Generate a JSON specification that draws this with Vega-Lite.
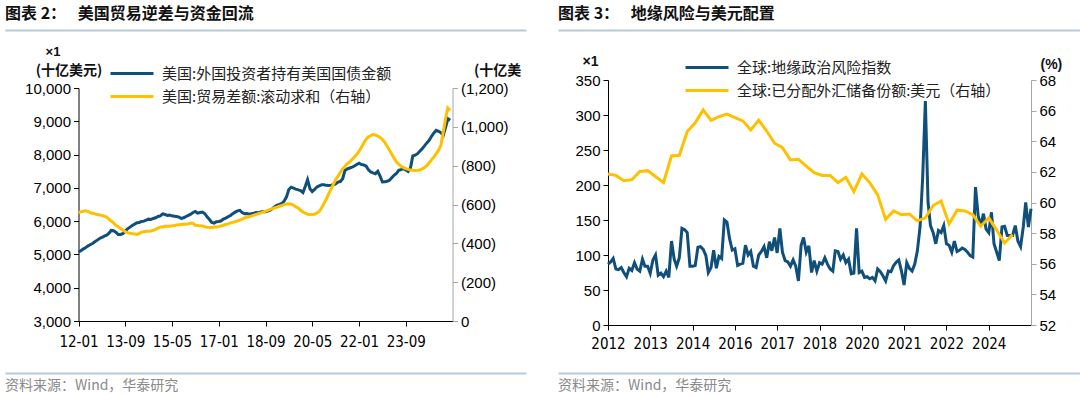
{
  "$schema": "https://vega.github.io/schema/vega-lite/v6.json",
  "background": "white",
  "padding": {"left": 5, "top": 5, "right": 0, "bottom": 0},
  "columns": 2,
  "spacing": {"row": 48, "column": 32},
  "align": "each",
  "bounds": "flush",
  "datasets": {
    "us": [
      {"d":"2012-01","h":5073,"t":-558},{"d":"2012-02","h":5110,"t":-562},{"d":"2012-03","h":5160,"t":-565},{"d":"2012-04","h":5200,"t":-568},{"d":"2012-05","h":5250,"t":-565},{"d":"2012-06","h":5290,"t":-558},{"d":"2012-07","h":5330,"t":-555},{"d":"2012-08","h":5380,"t":-552},{"d":"2012-09","h":5430,"t":-548},{"d":"2012-10","h":5480,"t":-546},{"d":"2012-11","h":5510,"t":-544},{"d":"2012-12","h":5550,"t":-540},
      {"d":"2013-01","h":5575,"t":-535},{"d":"2013-02","h":5640,"t":-525},{"d":"2013-03","h":5720,"t":-515},{"d":"2013-04","h":5710,"t":-505},{"d":"2013-05","h":5670,"t":-493},{"d":"2013-06","h":5600,"t":-485},{"d":"2013-07","h":5600,"t":-476},{"d":"2013-08","h":5625,"t":-468},{"d":"2013-09","h":5700,"t":-460},{"d":"2013-10","h":5770,"t":-455},{"d":"2013-11","h":5820,"t":-452},{"d":"2013-12","h":5870,"t":-450},
      {"d":"2014-01","h":5910,"t":-448},{"d":"2014-02","h":5950,"t":-446},{"d":"2014-03","h":5960,"t":-450},{"d":"2014-04","h":5990,"t":-458},{"d":"2014-05","h":6000,"t":-460},{"d":"2014-06","h":6030,"t":-462},{"d":"2014-07","h":6060,"t":-462},{"d":"2014-08","h":6050,"t":-464},{"d":"2014-09","h":6080,"t":-467},{"d":"2014-10","h":6100,"t":-472},{"d":"2014-11","h":6140,"t":-478},{"d":"2014-12","h":6160,"t":-484},
      {"d":"2015-01","h":6220,"t":-484},{"d":"2015-02","h":6200,"t":-488},{"d":"2015-03","h":6170,"t":-488},{"d":"2015-04","h":6180,"t":-488},{"d":"2015-05","h":6160,"t":-490},{"d":"2015-06","h":6150,"t":-492},{"d":"2015-07","h":6140,"t":-494},{"d":"2015-08","h":6120,"t":-496},{"d":"2015-09","h":6080,"t":-497},{"d":"2015-10","h":6100,"t":-498},{"d":"2015-11","h":6140,"t":-498},{"d":"2015-12","h":6175,"t":-500},
      {"d":"2016-01","h":6210,"t":-505},{"d":"2016-02","h":6260,"t":-503},{"d":"2016-03","h":6290,"t":-493},{"d":"2016-04","h":6240,"t":-492},{"d":"2016-05","h":6260,"t":-490},{"d":"2016-06","h":6275,"t":-489},{"d":"2016-07","h":6230,"t":-486},{"d":"2016-08","h":6130,"t":-483},{"d":"2016-09","h":6050,"t":-481},{"d":"2016-10","h":5960,"t":-482},{"d":"2016-11","h":5940,"t":-484},{"d":"2016-12","h":5980,"t":-484},
      {"d":"2017-01","h":5990,"t":-486},{"d":"2017-02","h":6010,"t":-490},{"d":"2017-03","h":6060,"t":-493},{"d":"2017-04","h":6090,"t":-497},{"d":"2017-05","h":6130,"t":-500},{"d":"2017-06","h":6170,"t":-505},{"d":"2017-07","h":6225,"t":-508},{"d":"2017-08","h":6270,"t":-512},{"d":"2017-09","h":6310,"t":-515},{"d":"2017-10","h":6325,"t":-520},{"d":"2017-11","h":6260,"t":-525},{"d":"2017-12","h":6225,"t":-531},
      {"d":"2018-01","h":6230,"t":-534},{"d":"2018-02","h":6210,"t":-538},{"d":"2018-03","h":6225,"t":-541},{"d":"2018-04","h":6240,"t":-545},{"d":"2018-05","h":6260,"t":-549},{"d":"2018-06","h":6250,"t":-553},{"d":"2018-07","h":6275,"t":-557},{"d":"2018-08","h":6290,"t":-562},{"d":"2018-09","h":6280,"t":-565},{"d":"2018-10","h":6300,"t":-570},{"d":"2018-11","h":6330,"t":-575},{"d":"2018-12","h":6375,"t":-579},
      {"d":"2019-01","h":6440,"t":-583},{"d":"2019-02","h":6480,"t":-587},{"d":"2019-03","h":6500,"t":-591},{"d":"2019-04","h":6530,"t":-595},{"d":"2019-05","h":6600,"t":-599},{"d":"2019-06","h":6730,"t":-603},{"d":"2019-07","h":6950,"t":-604},{"d":"2019-08","h":7020,"t":-602},{"d":"2019-09","h":6990,"t":-596},{"d":"2019-10","h":6960,"t":-588},{"d":"2019-11","h":6940,"t":-582},{"d":"2019-12","h":6920,"t":-570},
      {"d":"2020-01","h":6860,"t":-561},{"d":"2020-02","h":7050,"t":-555},{"d":"2020-03","h":7246,"t":-550},{"d":"2020-04","h":6975,"t":-548},{"d":"2020-05","h":6890,"t":-548},{"d":"2020-06","h":6950,"t":-550},{"d":"2020-07","h":7025,"t":-556},{"d":"2020-08","h":7060,"t":-565},{"d":"2020-09","h":7095,"t":-583},{"d":"2020-10","h":7090,"t":-605},{"d":"2020-11","h":7075,"t":-628},{"d":"2020-12","h":7070,"t":-655},
      {"d":"2021-01","h":7080,"t":-680},{"d":"2021-02","h":7095,"t":-705},{"d":"2021-03","h":7120,"t":-728},{"d":"2021-04","h":7175,"t":-745},{"d":"2021-05","h":7190,"t":-765},{"d":"2021-06","h":7276,"t":-785},{"d":"2021-07","h":7526,"t":-797},{"d":"2021-08","h":7570,"t":-810},{"d":"2021-09","h":7596,"t":-819},{"d":"2021-10","h":7620,"t":-832},{"d":"2021-11","h":7656,"t":-845},{"d":"2021-12","h":7700,"t":-858},
      {"d":"2022-01","h":7740,"t":-875},{"d":"2022-02","h":7700,"t":-895},{"d":"2022-03","h":7690,"t":-915},{"d":"2022-04","h":7656,"t":-935},{"d":"2022-05","h":7550,"t":-948},{"d":"2022-06","h":7476,"t":-955},{"d":"2022-07","h":7450,"t":-960},{"d":"2022-08","h":7426,"t":-958},{"d":"2022-09","h":7496,"t":-953},{"d":"2022-10","h":7350,"t":-945},{"d":"2022-11","h":7175,"t":-935},{"d":"2022-12","h":7180,"t":-920},
      {"d":"2023-01","h":7200,"t":-900},{"d":"2023-02","h":7226,"t":-880},{"d":"2023-03","h":7300,"t":-860},{"d":"2023-04","h":7376,"t":-840},{"d":"2023-05","h":7430,"t":-820},{"d":"2023-06","h":7526,"t":-808},{"d":"2023-07","h":7550,"t":-797},{"d":"2023-08","h":7576,"t":-790},{"d":"2023-09","h":7540,"t":-785},{"d":"2023-10","h":7496,"t":-781},{"d":"2023-11","h":7600,"t":-778},{"d":"2023-12","h":7957,"t":-776},
      {"d":"2024-01","h":7980,"t":-775},{"d":"2024-02","h":8027,"t":-776},{"d":"2024-03","h":8100,"t":-778},{"d":"2024-04","h":8177,"t":-783},{"d":"2024-05","h":8260,"t":-790},{"d":"2024-06","h":8350,"t":-800},{"d":"2024-07","h":8428,"t":-815},{"d":"2024-08","h":8550,"t":-830},{"d":"2024-09","h":8650,"t":-845},{"d":"2024-10","h":8728,"t":-862},{"d":"2024-11","h":8700,"t":-880},{"d":"2024-12","h":8658,"t":-905},
      {"d":"2025-01","h":8578,"t":-974},{"d":"2025-02","h":8828,"t":-1046},{"d":"2025-03","h":9079,"t":-1097},{"d":"2025-04","h":9029,"t":-1085}
    ],
    "gpr": [
      {"d":"2012-01","g":87},{"d":"2012-02","g":90},{"d":"2012-03","g":95},{"d":"2012-04","g":80},{"d":"2012-05","g":79},{"d":"2012-06","g":82},{"d":"2012-07","g":75},{"d":"2012-08","g":69},{"d":"2012-09","g":81},{"d":"2012-10","g":78},{"d":"2012-11","g":89},{"d":"2012-12","g":80},
      {"d":"2013-01","g":77},{"d":"2013-02","g":94},{"d":"2013-03","g":84},{"d":"2013-04","g":84},{"d":"2013-05","g":74},{"d":"2013-06","g":93},{"d":"2013-07","g":100},{"d":"2013-08","g":71},{"d":"2013-09","g":74},{"d":"2013-10","g":69},{"d":"2013-11","g":77},{"d":"2013-12","g":68},
      {"d":"2014-01","g":120},{"d":"2014-02","g":94},{"d":"2014-03","g":84},{"d":"2014-04","g":96},{"d":"2014-05","g":138},{"d":"2014-06","g":136},{"d":"2014-07","g":132},{"d":"2014-08","g":84},{"d":"2014-09","g":84},{"d":"2014-10","g":85},{"d":"2014-11","g":111},{"d":"2014-12","g":112},
      {"d":"2015-01","g":108},{"d":"2015-02","g":99},{"d":"2015-03","g":75},{"d":"2015-04","g":82},{"d":"2015-05","g":107},{"d":"2015-06","g":81},{"d":"2015-07","g":98},{"d":"2015-08","g":95},{"d":"2015-09","g":150},{"d":"2015-10","g":147},{"d":"2015-11","g":123},{"d":"2015-12","g":107},
      {"d":"2016-01","g":109},{"d":"2016-02","g":85},{"d":"2016-03","g":87},{"d":"2016-04","g":88},{"d":"2016-05","g":114},{"d":"2016-06","g":100},{"d":"2016-07","g":105},{"d":"2016-08","g":84},{"d":"2016-09","g":82},{"d":"2016-10","g":100},{"d":"2016-11","g":105},{"d":"2016-12","g":112},
      {"d":"2017-01","g":96},{"d":"2017-02","g":119},{"d":"2017-03","g":106},{"d":"2017-04","g":125},{"d":"2017-05","g":103},{"d":"2017-06","g":138},{"d":"2017-07","g":104},{"d":"2017-08","g":92},{"d":"2017-09","g":90},{"d":"2017-10","g":84},{"d":"2017-11","g":93},{"d":"2017-12","g":84},
      {"d":"2018-01","g":63},{"d":"2018-02","g":114},{"d":"2018-03","g":125},{"d":"2018-04","g":104},{"d":"2018-05","g":113},{"d":"2018-06","g":75},{"d":"2018-07","g":92},{"d":"2018-08","g":77},{"d":"2018-09","g":89},{"d":"2018-10","g":87},{"d":"2018-11","g":96},{"d":"2018-12","g":87},
      {"d":"2019-01","g":80},{"d":"2019-02","g":77},{"d":"2019-03","g":106},{"d":"2019-04","g":105},{"d":"2019-05","g":94},{"d":"2019-06","g":100},{"d":"2019-07","g":89},{"d":"2019-08","g":94},{"d":"2019-09","g":73},{"d":"2019-10","g":74},{"d":"2019-11","g":138},{"d":"2019-12","g":75},
      {"d":"2020-01","g":77},{"d":"2020-02","g":68},{"d":"2020-03","g":69},{"d":"2020-04","g":66},{"d":"2020-05","g":68},{"d":"2020-06","g":63},{"d":"2020-07","g":80},{"d":"2020-08","g":76},{"d":"2020-09","g":70},{"d":"2020-10","g":63},{"d":"2020-11","g":77},{"d":"2020-12","g":76},
      {"d":"2021-01","g":85},{"d":"2021-02","g":90},{"d":"2021-03","g":93},{"d":"2021-04","g":77},{"d":"2021-05","g":57},{"d":"2021-06","g":89},{"d":"2021-07","g":81},{"d":"2021-08","g":77},{"d":"2021-09","g":87},{"d":"2021-10","g":106},{"d":"2021-11","g":140},{"d":"2021-12","g":210},
      {"d":"2022-01","g":320},{"d":"2022-02","g":175},{"d":"2022-03","g":142},{"d":"2022-04","g":132},{"d":"2022-05","g":116},{"d":"2022-06","g":135},{"d":"2022-07","g":132},{"d":"2022-08","g":142},{"d":"2022-09","g":116},{"d":"2022-10","g":114},{"d":"2022-11","g":104},{"d":"2022-12","g":120},
      {"d":"2023-01","g":105},{"d":"2023-02","g":107},{"d":"2023-03","g":110},{"d":"2023-04","g":108},{"d":"2023-05","g":104},{"d":"2023-06","g":99},{"d":"2023-07","g":97},{"d":"2023-08","g":197},{"d":"2023-09","g":156},{"d":"2023-10","g":142},{"d":"2023-11","g":159},{"d":"2023-12","g":137},
      {"d":"2024-01","g":132},{"d":"2024-02","g":161},{"d":"2024-03","g":116},{"d":"2024-04","g":104},{"d":"2024-05","g":92},{"d":"2024-06","g":140},{"d":"2024-07","g":141},{"d":"2024-08","g":128},{"d":"2024-09","g":128},{"d":"2024-10","g":128},{"d":"2024-11","g":142},{"d":"2024-12","g":120},
      {"d":"2025-01","g":112},{"d":"2025-02","g":140},{"d":"2025-03","g":175},{"d":"2025-04","g":140},{"d":"2025-05","g":166}
    ],
    "usd": [
      {"d":"2012-01","u":61.86},{"d":"2012-04","u":61.77},{"d":"2012-07","u":61.42},{"d":"2012-10","u":61.49},
      {"d":"2013-01","u":62.03},{"d":"2013-04","u":62.08},{"d":"2013-07","u":61.7},{"d":"2013-10","u":61.3},
      {"d":"2014-01","u":63.04},{"d":"2014-04","u":63.08},{"d":"2014-07","u":64.63},{"d":"2014-10","u":65.2},
      {"d":"2015-01","u":66.05},{"d":"2015-04","u":65.37},{"d":"2015-07","u":65.6},{"d":"2015-10","u":65.77},
      {"d":"2016-01","u":65.55},{"d":"2016-04","u":65.33},{"d":"2016-07","u":64.74},{"d":"2016-10","u":65.37},
      {"d":"2017-01","u":64.67},{"d":"2017-04","u":63.87},{"d":"2017-07","u":63.58},{"d":"2017-10","u":62.78},
      {"d":"2018-01","u":62.82},{"d":"2018-04","u":62.38},{"d":"2018-07","u":61.95},{"d":"2018-10","u":61.77},
      {"d":"2019-01","u":61.77},{"d":"2019-04","u":61.3},{"d":"2019-07","u":61.64},{"d":"2019-10","u":60.7},
      {"d":"2020-01","u":61.86},{"d":"2020-04","u":61.3},{"d":"2020-07","u":60.5},{"d":"2020-10","u":58.9},
      {"d":"2021-01","u":59.45},{"d":"2021-04","u":59.2},{"d":"2021-07","u":59.25},{"d":"2021-10","u":58.8},
      {"d":"2022-01","u":59.0},{"d":"2022-04","u":59.8},{"d":"2022-07","u":60.1},{"d":"2022-10","u":58.6},
      {"d":"2023-01","u":59.5},{"d":"2023-04","u":59.45},{"d":"2023-07","u":59.2},{"d":"2023-10","u":58.45},
      {"d":"2024-01","u":59.0},{"d":"2024-04","u":58.2},{"d":"2024-07","u":57.35},{"d":"2024-10","u":57.9}
    ]
  },
  "concat": [
    {
      "width": 521, "height": 1,
      "data": {"values": [{}]},
      "mark": {"type": "text", "text": ""},
      "encoding": {"x": {"datum": 0, "type": "quantitative", "scale": {"domain": [0, 1]}, "axis": {"orient": "top", "offset": 1, "ticks": false, "labels": false, "title": null, "grid": false, "domainColor": "#b7c9d7", "domainWidth": 2}}},
      "view": {"stroke": null},
      "title": {"text": "图表 2：\u2002\u00a0美国贸易逆差与资金回流", "anchor": "start", "offset": 4, "font": "Noto Sans CJK SC", "fontSize": 16, "fontWeight": "bold", "color": "#111"}
    },
    {
      "width": 523, "height": 1,
      "data": {"values": [{}]},
      "mark": {"type": "text", "text": ""},
      "encoding": {"x": {"datum": 0, "type": "quantitative", "scale": {"domain": [0, 1]}, "axis": {"orient": "top", "offset": 1, "ticks": false, "labels": false, "title": null, "grid": false, "domainColor": "#b7c9d7", "domainWidth": 2}}},
      "view": {"stroke": null},
      "title": {"text": "图表 3：\u2002\u00a0地缘风险与美元配置", "anchor": "start", "offset": 4, "font": "Noto Sans CJK SC", "fontSize": 16, "fontWeight": "bold", "color": "#111"}
    },
    {
      "width": 521, "height": 245,
      "data": {"name": "us"},
      "encoding": {
        "x": {
          "field": "d", "type": "temporal",
          "scale": {"type": "utc", "range": [73.5, 447.5], "domain": [{"year": 2012, "month": 1, "date": 1, "utc": true}, {"year": 2025, "month": 5, "date": 1, "utc": true}]},
          "axis": {
            "title": null, "offset": -4,
            "labelExpr": "utcFormat(datum.value, '%y-%m')",
            "values": [
              {"year": 2012, "month": 1, "date": 1, "utc": true},
              {"year": 2013, "month": 9, "date": 1, "utc": true},
              {"year": 2015, "month": 5, "date": 1, "utc": true},
              {"year": 2017, "month": 1, "date": 1, "utc": true},
              {"year": 2018, "month": 9, "date": 1, "utc": true},
              {"year": 2020, "month": 5, "date": 1, "utc": true},
              {"year": 2022, "month": 1, "date": 1, "utc": true},
              {"year": 2023, "month": 9, "date": 1, "utc": true}
            ],
            "labelFont": "'Liberation Sans Narrow', 'DejaVu Sans Condensed', 'Liberation Sans'", "labelFontSize": 15, "labelPadding": 8,
            "domainColor": "#000", "tickColor": "#000", "tickSize": 5, "labelFlush": false, "labelOverlap": false
          }
        }
      },
      "layer": [
        {
          "mark": {"type": "line", "strokeWidth": 3},
          "encoding": {
            "y": {
              "field": "h", "type": "quantitative",
              "scale": {"domain": [3000, 10000], "range": [241, 8], "zero": false, "nice": false},
              "axis": {
                "orient": "left", "offset": -73.5, "values": [3000, 4000, 5000, 6000, 7000, 8000, 9000, 10000], "format": ",.0f",
                "domainColor": "#000", "tickColor": "#000", "tickSize": 5, "labelPadding": 3,
                "title": "(十亿美元)", "titleAngle": 0, "titleAlign": "center", "titleBaseline": "middle",
                "titleX": -10, "titleY": -10, "titleFont": "Noto Sans CJK SC", "titleFontSize": 14, "titleFontWeight": "bold", "titleColor": "#111"
              }
            },
            "color": {
              "datum": "美国:外国投资者持有美国国债金额", "type": "nominal",
              "scale": {"domain": ["美国:外国投资者持有美国国债金额", "美国:贸易差额:滚动求和（右轴）"], "range": ["#0f4f7a", "#ffc000"]},
              "legend": {
                "title": null, "orient": "none", "legendX": 104, "legendY": -14, "direction": "vertical", "padding": 0,
                "symbolType": "stroke", "symbolSize": 1849, "symbolStrokeWidth": 3, "clipHeight": 15, "rowPadding": 7,
                "labelOffset": 7, "labelFont": "Noto Sans CJK SC", "labelFontSize": 15, "labelColor": "#222", "labelLimit": 400
              }
            }
          }
        },
        {
          "mark": {"type": "line", "strokeWidth": 3},
          "encoding": {
            "y": {
              "field": "t", "type": "quantitative",
              "scale": {"domain": [-1200, 0], "range": [241, 8], "reverse": true, "zero": false, "nice": false},
              "axis": {
                "orient": "right", "offset": -73.5, "values": [-1200, -1000, -800, -600, -400, -200, 0],
                "labelExpr": "datum.value == 0 ? '0' : '(' + format(-datum.value, ',') + ')'",
                "domainColor": "#a6a6a6", "tickColor": "#a6a6a6", "tickSize": 5, "labelPadding": 3,
                "title": "(十亿美", "titleAngle": 0, "titleAlign": "left", "titleBaseline": "middle",
                "titleX": 21, "titleY": -10, "titleFont": "Noto Sans CJK SC", "titleFontSize": 14, "titleFontWeight": "bold", "titleColor": "#111"
              }
            },
            "color": {"datum": "美国:贸易差额:滚动求和（右轴）", "type": "nominal"}
          }
        },
        {
          "mark": {"type": "line", "opacity": 0},
          "encoding": {
            "y": {
              "field": "h", "type": "quantitative",
              "scale": {"domain": [3000, 10000], "range": [241, 8], "zero": false, "nice": false},
              "axis": {
                "orient": "left", "offset": -73.5, "domain": false, "ticks": false, "labels": false,
                "title": "×1", "titleAngle": 0, "titleAlign": "center", "titleBaseline": "middle",
                "titleX": -26, "titleY": -29, "titleFont": "Liberation Sans", "titleFontSize": 13, "titleFontWeight": "bold", "titleColor": "#111"
              }
            }
          }
        }
      ],
      "resolve": {"scale": {"y": "independent"}}
    },
    {
      "width": 523, "height": 245,
      "encoding": {
        "x": {
          "field": "d", "type": "temporal",
          "scale": {"type": "utc", "range": [50, 473], "domain": [{"year": 2012, "month": 1, "date": 1, "utc": true}, {"year": 2025, "month": 5, "date": 1, "utc": true}]},
          "axis": {
            "title": null,
            "labelExpr": "utcFormat(datum.value, '%Y')",
            "values": [
              {"year": 2012, "month": 1, "date": 1, "utc": true},
              {"year": 2013, "month": 5, "date": 1, "utc": true},
              {"year": 2014, "month": 9, "date": 1, "utc": true},
              {"year": 2016, "month": 1, "date": 1, "utc": true},
              {"year": 2017, "month": 5, "date": 1, "utc": true},
              {"year": 2018, "month": 9, "date": 1, "utc": true},
              {"year": 2020, "month": 1, "date": 1, "utc": true},
              {"year": 2021, "month": 5, "date": 1, "utc": true},
              {"year": 2022, "month": 9, "date": 1, "utc": true},
              {"year": 2024, "month": 1, "date": 1, "utc": true}
            ],
            "labelFont": "'Liberation Sans Narrow', 'DejaVu Sans Condensed', 'Liberation Sans'", "labelFontSize": 15, "labelPadding": 6,
            "domainColor": "#000", "tickColor": "#000", "tickSize": 5, "labelFlush": false, "labelOverlap": false
          }
        }
      },
      "layer": [
        {
          "data": {"name": "gpr"},
          "mark": {"type": "line", "strokeWidth": 3},
          "encoding": {
            "y": {
              "field": "g", "type": "quantitative",
              "scale": {"domain": [0, 350], "nice": false},
              "axis": {
                "orient": "left", "offset": -50, "values": [0, 50, 100, 150, 200, 250, 300, 350],
                "domainColor": "#000", "tickColor": "#000", "tickSize": 5, "labelPadding": 3,
                "title": "×1", "titleAngle": 0, "titleAlign": "center", "titleBaseline": "middle",
                "titleX": -18, "titleY": -19, "titleFont": "Liberation Sans", "titleFontSize": 14, "titleFontWeight": "bold", "titleColor": "#111"
              }
            },
            "color": {
              "datum": "全球:地缘政治风险指数", "type": "nominal",
              "scale": {"domain": ["全球:地缘政治风险指数", "全球:已分配外汇储备份额:美元（右轴）"], "range": ["#0f4f7a", "#ffc000"]},
              "legend": {
                "title": null, "orient": "none", "legendX": 126, "legendY": -20, "direction": "vertical", "padding": 0,
                "symbolType": "stroke", "symbolSize": 1849, "symbolStrokeWidth": 3, "clipHeight": 15, "rowPadding": 7,
                "labelOffset": 7, "labelFont": "Noto Sans CJK SC", "labelFontSize": 15, "labelColor": "#222", "labelLimit": 400
              }
            }
          }
        },
        {
          "data": {"name": "usd"},
          "mark": {"type": "line", "strokeWidth": 3},
          "encoding": {
            "y": {
              "field": "u", "type": "quantitative",
              "scale": {"domain": [52, 68], "zero": false, "nice": false},
              "axis": {
                "orient": "right", "offset": -50, "values": [52, 54, 56, 58, 60, 62, 64, 66, 68],
                "domainColor": "#a6a6a6", "tickColor": "#a6a6a6", "tickSize": 5, "labelPadding": 3,
                "title": "(%)", "titleAngle": 0, "titleAlign": "left", "titleBaseline": "middle",
                "titleX": 9, "titleY": -16, "titleFont": "Liberation Sans", "titleFontSize": 14, "titleFontWeight": "bold", "titleColor": "#111"
              }
            },
            "color": {"datum": "全球:已分配外汇储备份额:美元（右轴）", "type": "nominal"}
          }
        }
      ],
      "resolve": {"scale": {"y": "independent"}}
    },
    {
      "width": 521, "height": 1,
      "data": {"values": [{}]},
      "mark": {"type": "text", "text": ""},
      "encoding": {"x": {"datum": 0, "type": "quantitative", "scale": {"domain": [0, 1]}, "axis": {"orient": "top", "offset": 0, "ticks": false, "labels": false, "title": null, "grid": false, "domainColor": "#b7c9d7", "domainWidth": 2}}},
      "view": {"stroke": null},
      "title": {"text": "资料来源：Wind，华泰研究", "orient": "bottom", "anchor": "start", "offset": 0, "font": "Noto Sans CJK SC", "fontSize": 14, "fontWeight": "normal", "color": "#8a8a8a"}
    },
    {
      "width": 523, "height": 1,
      "data": {"values": [{}]},
      "mark": {"type": "text", "text": ""},
      "encoding": {"x": {"datum": 0, "type": "quantitative", "scale": {"domain": [0, 1]}, "axis": {"orient": "top", "offset": 0, "ticks": false, "labels": false, "title": null, "grid": false, "domainColor": "#b7c9d7", "domainWidth": 2}}},
      "view": {"stroke": null},
      "title": {"text": "资料来源：Wind，华泰研究", "orient": "bottom", "anchor": "start", "offset": 0, "font": "Noto Sans CJK SC", "fontSize": 14, "fontWeight": "normal", "color": "#8a8a8a"}
    }
  ],
  "resolve": {"scale": {"color": "independent"}, "legend": {"color": "independent"}},
  "config": {
    "font": "Liberation Sans",
    "view": {"stroke": null},
    "axis": {"grid": false, "labelFont": "Liberation Sans", "labelFontSize": 15, "labelColor": "#000", "domainWidth": 1, "tickWidth": 1}
  }
}
